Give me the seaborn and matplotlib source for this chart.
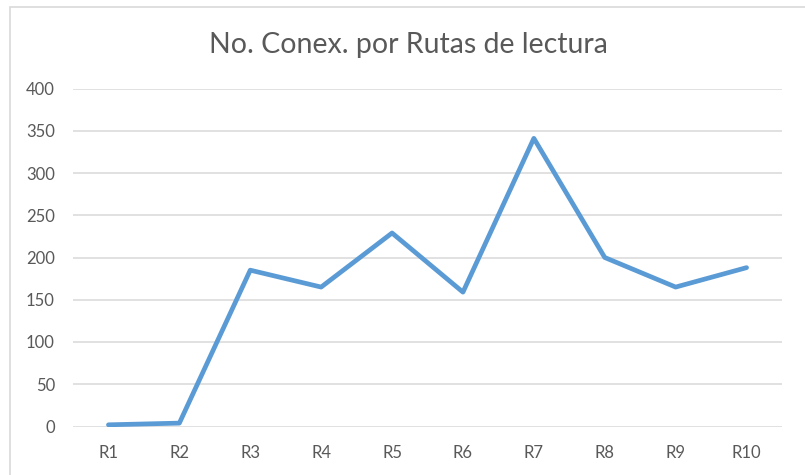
import matplotlib
matplotlib.use('Agg')
import matplotlib.pyplot as plt
import pandas as pd
import seaborn as sns
from matplotlib.patches import Rectangle

# Data
rutas = ['R1', 'R2', 'R3', 'R4', 'R5', 'R6', 'R7', 'R8', 'R9', 'R10']
conexiones = [2, 4, 185, 165, 229, 159, 341, 200, 165, 188]
y_ticks = [0, 50, 100, 150, 200, 250, 300, 350, 400]

df = pd.DataFrame({'ruta': rutas, 'conexiones': conexiones})

sns.set_style("white")
plt.rcParams['font.family'] = ['Lato', 'DejaVu Sans']

text_color = '#595959'
grid_color = '#D9D9D9'

fig = plt.figure(figsize=(8.05, 4.75), dpi=100)
ax = fig.add_axes([73 / 805, 1 - 426.5 / 475, 709 / 805, (426.5 - 88.5) / 475])

# Gridlines behind the line
for t in y_ticks:
    ax.axhline(t, color=grid_color, linewidth=1.1, zorder=0)

sns.lineplot(data=df, x='ruta', y='conexiones', ax=ax, color='#5B9BD5',
             linewidth=3.4, sort=False)
for line in ax.lines:
    line.set_solid_capstyle('round')
    line.set_solid_joinstyle('round')

ax.set_xlim(-0.5, len(rutas) - 0.5)
ax.set_ylim(0, 400)
ax.set_yticks(y_ticks)
ax.set_xticks(range(len(rutas)))
ax.set_xticklabels(rutas)
ax.set_xlabel('')
ax.set_ylabel('')
ax.tick_params(axis='both', length=0, labelsize=12, colors=text_color)
ax.tick_params(axis='x', pad=13)
ax.tick_params(axis='y', pad=13)
for spine in ax.spines.values():
    spine.set_visible(False)

# Title
fig.text(408 / 805, 1 - 45 / 475, 'No. Conex. por Rutas de lectura',
         ha='center', va='center', fontsize=20.5, color=text_color)

# Chart border (partially cropped in the reference)
fig.patches.append(Rectangle((10 / 805, -0.05), 1.0, 1 - 7 / 475 + 0.05,
                             transform=fig.transFigure, fill=False,
                             edgecolor=grid_color, linewidth=1.2))

fig.savefig('out.png', dpi=100)
plt.close(fig)
